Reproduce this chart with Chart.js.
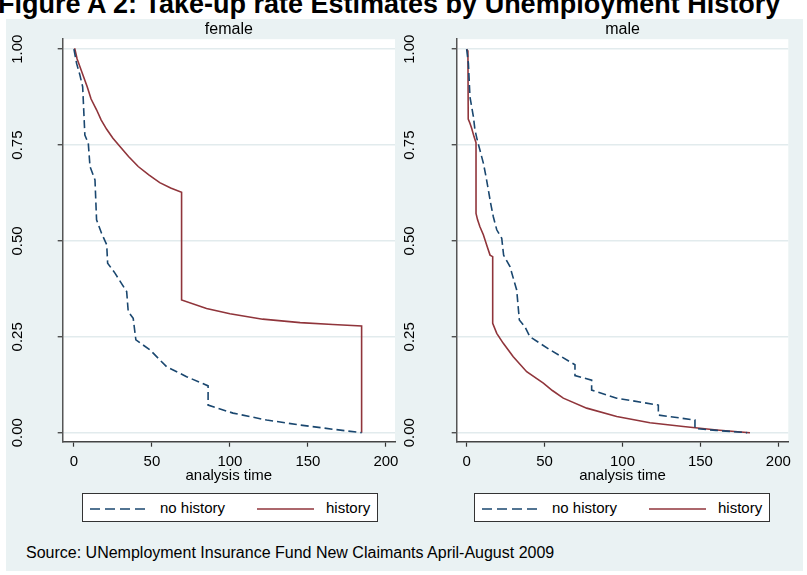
<!DOCTYPE html>
<html>
<head>
<meta charset="utf-8">
<script src="https://cdn.jsdelivr.net/npm/chart.js@4.4.1/dist/chart.umd.min.js"></script>
<style>
  html, body { margin: 0; padding: 0; background: #fff; }
  body { width: 807px; height: 575px; position: relative; overflow: hidden; font-family: "Liberation Sans", Arial, sans-serif; color: #000; }
  #title { position: absolute; left: -2px; top: -11px; font-size: 27px; line-height: 30px; font-weight: bold; white-space: nowrap; }
  #bg { position: absolute; left: 6px; top: 19px; width: 797px; height: 552px; background: #eaf2f3; }
  canvas { position: absolute; top: 20px; }
  .legend { position: absolute; top: 493px; width: 296px; height: 29px; box-sizing: border-box; border: 1px solid #333; background: #fff; font-size: 15px; }
  .legend svg { position: absolute; top: 13px; }
  .legend span { position: absolute; top: 5px; line-height: 18px; }
  #source { position: absolute; left: 26px; top: 544px; font-size: 16px; line-height: 18px; white-space: nowrap; }
</style>
</head>
<body>
<div id="title">Figure A 2: Take-up rate Estimates by Unemployment History</div>
<div id="bg"></div>
<canvas id="chartFemale" width="400" height="470" style="left:0px"></canvas>
<canvas id="chartMale" width="400" height="470" style="left:400px"></canvas>
<div class="legend" style="left:82px">
  <svg width="58" height="4" style="left:7px"><line x1="0" y1="2" x2="58" y2="2" stroke="#1a476f" stroke-width="1.6" stroke-dasharray="10 5"/></svg>
  <span style="left:77px">no history</span>
  <svg width="57" height="4" style="left:174px"><line x1="0" y1="2" x2="57" y2="2" stroke="#90353b" stroke-width="1.6"/></svg>
  <span style="left:243px">history</span>
</div>
<div class="legend" style="left:474px">
  <svg width="58" height="4" style="left:7px"><line x1="0" y1="2" x2="58" y2="2" stroke="#1a476f" stroke-width="1.6" stroke-dasharray="10 5"/></svg>
  <span style="left:77px">no history</span>
  <svg width="57" height="4" style="left:174px"><line x1="0" y1="2" x2="57" y2="2" stroke="#90353b" stroke-width="1.6"/></svg>
  <span style="left:243px">history</span>
</div>
<div id="source">Source: UNemployment Insurance Fund New Claimants April-August 2009</div>

<script>
// tick labels
const xTicks = [0, 50, 100, 150, 200];
const yTicks = [0, 0.25, 0.5, 0.75, 1];
const seriesLabels = ['no history', 'history'];

// female, no history (Kaplan-Meier estimate)
const femaleNoHistT = [0, 1.7, 3.8, 5.6, 7, 9.2, 10.3, 13.5, 14.5, 17.7, 21, 21.6, 26.3, 33.8, 34.8, 38, 39.7, 48.7, 59.4, 72.2, 86, 86, 102, 123.5, 145, 166, 184.4];
const femaleNoHistS = [1, 0.963, 0.933, 0.902, 0.776, 0.755, 0.694, 0.659, 0.555, 0.52, 0.49, 0.442, 0.416, 0.368, 0.316, 0.298, 0.242, 0.216, 0.172, 0.146, 0.122, 0.072, 0.051, 0.033, 0.02, 0.009, 0];
// female, history
const femaleHistT = [0, 0.6, 2, 3.8, 6, 8.5, 11, 14.5, 17.5, 21, 25, 29.5, 35, 41.2, 48, 55, 62, 69, 69, 85, 100, 121, 145, 166, 184.4, 184.4];
const femaleHistS = [1, 1, 0.975, 0.955, 0.93, 0.902, 0.87, 0.842, 0.815, 0.791, 0.768, 0.746, 0.72, 0.694, 0.672, 0.652, 0.638, 0.627, 0.346, 0.324, 0.31, 0.296, 0.287, 0.282, 0.278, 0];

// male, no history
const maleNoHistT = [0, 1.1, 2.1, 3.2, 4.3, 5.3, 6.8, 8.5, 10.7, 12.4, 13.9, 15.4, 17.1, 19.3, 22.5, 23.7, 27.8, 29.9, 32.1, 33.8, 37.4, 40.6, 53.5, 69.5, 69.5, 80.2, 80.2, 96.3, 123, 123, 146.5, 146.5, 160, 180];
const maleNoHistS = [1, 0.963, 0.876, 0.85, 0.824, 0.79, 0.763, 0.737, 0.703, 0.668, 0.633, 0.598, 0.563, 0.529, 0.507, 0.463, 0.433, 0.403, 0.372, 0.294, 0.276, 0.25, 0.216, 0.177, 0.149, 0.137, 0.111, 0.09, 0.072, 0.046, 0.033, 0.011, 0.006, 0];
// male, history
const maleHistT = [0, 0.8, 1, 2.1, 3.2, 4.7, 6, 6, 7, 8.5, 10.7, 13.2, 15, 16.7, 16.7, 19.3, 23.5, 29.9, 38.5, 49.2, 55, 62, 77, 96.3, 117.6, 139, 160.5, 181.8];
const maleHistS = [1, 0.995, 0.818, 0.807, 0.794, 0.772, 0.756, 0.572, 0.555, 0.537, 0.516, 0.485, 0.463, 0.459, 0.285, 0.259, 0.233, 0.198, 0.159, 0.129, 0.11, 0.09, 0.064, 0.042, 0.026, 0.016, 0.007, 0];

Chart.defaults.font.family = "'Liberation Sans', Arial, sans-serif";
Chart.defaults.color = '#000';

const NAVY = '#1a476f';
const MAROON = '#90353b';

// white plot region on the bluish-gray graph background
const plotRegion = {
    id: 'plotRegion',
    beforeDraw: function (chart) {
        const a = chart.chartArea;
        chart.ctx.save();
        chart.ctx.fillStyle = '#ffffff';
        chart.ctx.fillRect(a.left, a.top, a.right - a.left, a.bottom - a.top);
        chart.ctx.restore();
    }
};

function toPoints(ts, ss) {
    return ts.map(function (t, i) { return { x: t, y: ss[i] }; });
}

function makePanel(canvasId, header, noT, noS, hT, hS, xMin, xMax, yWidth, rightPad, yPad) {
    const ctx = document.getElementById(canvasId).getContext('2d');
    return new Chart(ctx, {
        type: 'line',
        data: {
            datasets: [{
                label: seriesLabels[0],
                data: toPoints(noT, noS),
                borderColor: NAVY,
                borderWidth: 1.6,
                borderDash: [8, 4],
                pointRadius: 0,
                tension: 0,
                fill: false
            }, {
                label: seriesLabels[1],
                data: toPoints(hT, hS),
                borderColor: MAROON,
                borderWidth: 1.6,
                pointRadius: 0,
                tension: 0,
                fill: false
            }]
        },
        options: {
            responsive: false,
            animation: false,
            devicePixelRatio: 1,
            layout: { padding: { left: 0, right: rightPad, top: 0, bottom: 0 } },
            plugins: {
                legend: { display: false },
                tooltip: { enabled: false },
                title: {
                    display: true,
                    text: header,
                    fullSize: false,
                    font: { size: 16, weight: 'normal' },
                    color: '#000',
                    padding: 0
                }
            },
            scales: {
                x: {
                    type: 'linear',
                    min: xMin,
                    max: xMax,
                    afterBuildTicks: function (s) { s.ticks = xTicks.map(function (v) { return { value: v }; }); },
                    afterFit: function (s) { s.height = 48.3; s.paddingLeft = 0; s.paddingRight = 0; },
                    grid: { drawOnChartArea: false, drawTicks: true, tickLength: 5, tickColor: '#333', tickWidth: 1.2 },
                    border: { display: true, color: '#444', width: 1.5 },
                    ticks: { padding: 6, font: { size: 15 }, color: '#000', maxRotation: 0, autoSkip: false },
                    title: { display: true, text: 'analysis time', font: { size: 15 }, color: '#000', padding: { top: 0, bottom: 5 } }
                },
                y: {
                    type: 'linear',
                    min: -0.0235,
                    max: 1.026,
                    afterBuildTicks: function (s) { s.ticks = yTicks.map(function (v) { return { value: v }; }); },
                    afterFit: function (s) { s.width = yWidth; s.paddingTop = 0; s.paddingBottom = 0; },
                    grid: { color: '#e2ebed', lineWidth: 1.5, drawTicks: true, tickLength: 5, tickColor: '#333', tickWidth: 1.2 },
                    border: { display: true, color: '#555', width: 1.5 },
                    ticks: {
                        minRotation: 90,
                        maxRotation: 90,
                        crossAlign: 'center',
                        padding: yPad,
                        font: { size: 15 },
                        color: '#000',
                        callback: function (v) { return Number(v).toFixed(2); }
                    }
                }
            }
        },
        plugins: [plotRegion]
    });
}

makePanel('chartFemale', 'female', femaleNoHistT, femaleNoHistS, femaleHistT, femaleHistS, -7.2, 205.8, 62.7, 5, 25.6);
makePanel('chartMale', 'male', maleNoHistT, maleNoHistS, maleHistT, maleHistS, -6.4, 206.4, 56.7, 11.7, 27);
</script>
</body>
</html>
